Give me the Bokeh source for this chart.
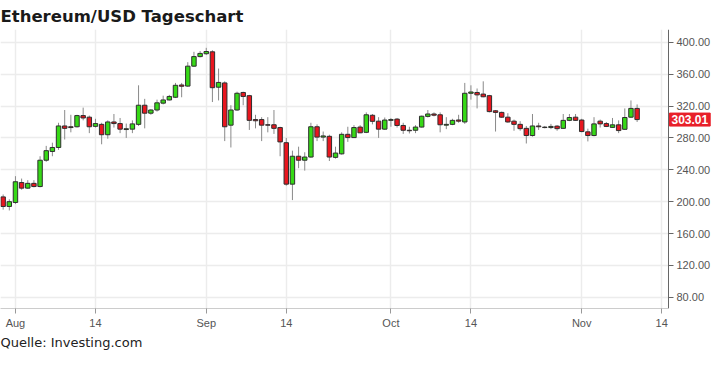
import pandas as pd
from bokeh.plotting import figure
from bokeh.models import (ColumnDataSource, FixedTicker, Label, Title, PrintfTickFormatter,
                          Range1d, BoxAnnotation)
from bokeh.embed import file_html
from bokeh.resources import INLINE

# ---------------- data ----------------
start_date = "2017-07-30"
opens = [206, 194, 199, 224, 217, 223, 219, 252, 263, 268,
         295, 294, 294, 308, 306, 294.5, 297, 284, 300, 298,
         290.5, 291, 297, 321, 311, 315, 323.6, 327.6, 331, 346.4,
         345, 370, 382, 385.6, 388, 343.6, 349, 296, 315, 337,
         333, 303, 303, 296.5, 296.5, 293, 274, 222, 257, 252,
         256, 294, 281, 282, 255.6, 260, 284.5, 280.4, 293.6, 287,
         308.4, 301, 291, 302, 303.6, 295.6, 289.6, 289.6, 293.6, 307,
         310, 309, 296, 297, 302.5, 300, 336, 337, 335, 333,
         314, 312, 306, 301, 297, 292, 283, 295, 293.5, 293,
         294.8, 292, 302, 306, 302.4, 287.6, 283, 301, 298, 293.2,
         296.4, 290.8, 306, 317]
highs = [209, 203, 232, 229, 227, 227, 257, 270, 274, 299,
         315, 309, 309, 318, 308, 304, 299, 302, 310, 305,
         298, 302, 346, 329, 316, 328, 333, 334, 349, 349,
         375, 388, 389, 393, 390, 367, 351, 321, 338, 338,
         334, 309, 306, 306, 315, 294, 280, 264, 269, 262,
         299, 297, 288, 284, 269, 287, 294, 296, 296, 312,
         310, 306, 305.6, 305, 305, 299, 294, 296, 308, 315,
         312, 312, 306, 304, 309, 349, 346, 342, 351, 334,
         315, 313, 311, 303, 301, 295, 310, 299, 295, 297.6,
         296, 310, 310, 310, 304, 291.6, 306, 303, 300, 305,
         302, 317, 327, 322]
lows = [190, 189, 197, 215, 216, 218, 218, 250, 257, 265,
        278, 287, 293, 302, 286, 293, 272, 279, 293, 286,
        280, 286, 295, 292, 309, 313, 322, 327, 330, 331,
        344, 369, 381, 384, 325, 327, 276, 268, 314, 321,
        290, 292, 276, 287, 285, 257, 220, 202, 242, 239,
        255, 276, 276, 251, 254, 259, 275, 280, 286, 286,
        297, 280, 290, 294, 293, 285, 285.6, 286, 293, 305.6,
        307, 287, 291, 296, 299, 297.6, 328, 317, 331, 312,
        288, 305, 299, 289, 289, 273, 281.6, 290, 292, 291,
        289, 291.5, 301, 301.5, 287, 275.6, 282, 293, 293.6, 292.5,
        286, 290, 305, 300]
closes = [194, 200, 225, 217, 223, 219, 252, 264, 268, 295,
          292, 293, 308, 305, 294, 298, 284, 300, 298, 291,
          291.5, 297.6, 321, 311, 315, 324, 327.6, 332, 346, 344.8,
          370, 382, 386, 388.4, 343, 349.6, 294, 315, 336, 332,
          302, 301.5, 296, 296, 292, 275, 222, 257, 252, 256,
          294, 281, 282.5, 256, 261, 284.5, 280.4, 293, 286.4, 309,
          300.8, 291, 302.4, 303, 295.6, 289.6, 289, 293.6, 307.2, 310,
          308.5, 296.5, 297, 302, 301, 336, 337.6, 334, 331.6, 313,
          312, 306, 300, 297, 291.6, 283, 295, 294, 293, 294.4,
          291.6, 302, 305.6, 302, 288, 283, 297.6, 297.6, 294.4, 296.4,
          289.2, 305.6, 317, 303.01]

tick_dates = ["2017-08-01", "2017-08-14", "2017-09-01", "2017-09-14",
              "2017-10-01", "2017-10-14", "2017-11-01", "2017-11-14"]
tick_labels = ["Aug", "14", "Sep", "14", "Oct", "14", "Nov", "14"]
y_ticks = [80, 120, 160, 200, 240, 280, 320, 360, 400]
last_price = 303.01

title_text = "Ethereum/USD Tageschart"
source_text = "Quelle: Investing.com"

# ---------------- derived ----------------
origin = pd.Timestamp("2017-08-01")
dates = pd.date_range(start_date, periods=len(opens), freq="D")
xs = [(d - origin).days for d in dates]
tick_x = [(pd.Timestamp(t) - origin).days for t in tick_dates]

UP = "#36d916"
DOWN = "#e8161f"
colors = [UP if c >= o else DOWN for o, c in zip(opens, closes)]
tops = [max(o, c) for o, c in zip(opens, closes)]
bottoms = [min(o, c) for o, c in zip(opens, closes)]

src = ColumnDataSource(dict(x=xs, high=highs, low=lows, top=tops, bottom=bottoms, color=colors))

# layout: plot area 0..AXIS_PX, price axis labels to the right of it
W, H = 711, 350
AXIS_PX = 668
x_start, x_axis = -2.43, 106.1
x_end = x_axis + (x_axis - x_start) * (W - AXIS_PX) / AXIS_PX

p = figure(width=W, height=H, output_backend="svg", toolbar_location=None,
           y_axis_location="right",
           x_range=Range1d(x_start, x_end), y_range=Range1d(66, 416),
           min_border_left=0, min_border_right=0, min_border_top=0, min_border_bottom=0)

p.title.text = title_text
p.title.text_font = "DejaVu Sans"
p.title.text_font_size = "16.5px"
p.title.text_font_style = "bold"
p.title.text_color = "#1a1a1a"
p.title.align = "left"
p.title.standoff = 8

p.outline_line_color = None

# grid
p.xgrid.grid_line_color = "#ececec"
p.ygrid.grid_line_color = "#ececec"
p.xgrid.grid_line_width = 1.5
p.ygrid.grid_line_width = 1.5
# keep the label strip right of the price axis clean
p.add_layout(BoxAnnotation(left=x_axis, fill_color="white", fill_alpha=1.0,
                           line_color=None, level="underlay"))

# y axis (right), drawn at the right edge of the chart area
p.yaxis.fixed_location = x_axis
p.yaxis.ticker = FixedTicker(ticks=y_ticks)
p.yaxis.formatter = PrintfTickFormatter(format="%.2f")
p.yaxis.major_label_text_font = "Liberation Sans"
p.yaxis.major_label_text_font_size = "11px"
p.yaxis.major_label_text_color = "#555555"
p.yaxis.axis_line_color = "#666666"
p.yaxis.major_tick_line_color = "#666666"
p.yaxis.major_tick_out = 5
p.yaxis.major_tick_in = 0
p.yaxis.minor_tick_line_color = None
p.yaxis.major_label_standoff = 3

# x axis
p.xaxis.ticker = FixedTicker(ticks=tick_x)
p.xaxis.bounds = (x_start, x_axis)
p.xaxis.major_label_overrides = {t: lab for t, lab in zip(tick_x, tick_labels)}
p.xaxis.major_label_text_font = "Liberation Sans"
p.xaxis.major_label_text_font_size = "11px"
p.xaxis.major_label_text_color = "#555555"
p.xaxis.axis_line_color = "#cccccc"
p.xaxis.major_tick_line_color = "#999999"
p.xaxis.major_tick_out = 5
p.xaxis.major_tick_in = 0
p.xaxis.minor_tick_line_color = None
p.xaxis.major_label_standoff = 3

# candles
p.segment(x0="x", y0="low", x1="x", y1="high", source=src, line_color="#8a8a8a", line_width=1)
p.vbar(x="x", width=0.72, top="top", bottom="bottom", source=src,
       fill_color="color", line_color="#2e2e2e", line_width=1)

# last price marker on the axis
p.add_layout(Label(x=x_axis, y=last_price, x_offset=1, text=f"{last_price:.2f}",
                   text_font="Liberation Sans", text_font_size="12px", text_font_style="bold",
                   text_color="white", text_baseline="middle", text_align="left",
                   background_fill_color="#e8202a", border_line_color="#e8202a", padding=2))

# source note
p.add_layout(Title(text=source_text, align="left", text_font="DejaVu Sans",
                   text_font_size="13px", text_font_style="normal", text_color="#222222",
                   standoff=2), "below")

open("out.html", "w").write(file_html(p, INLINE))
